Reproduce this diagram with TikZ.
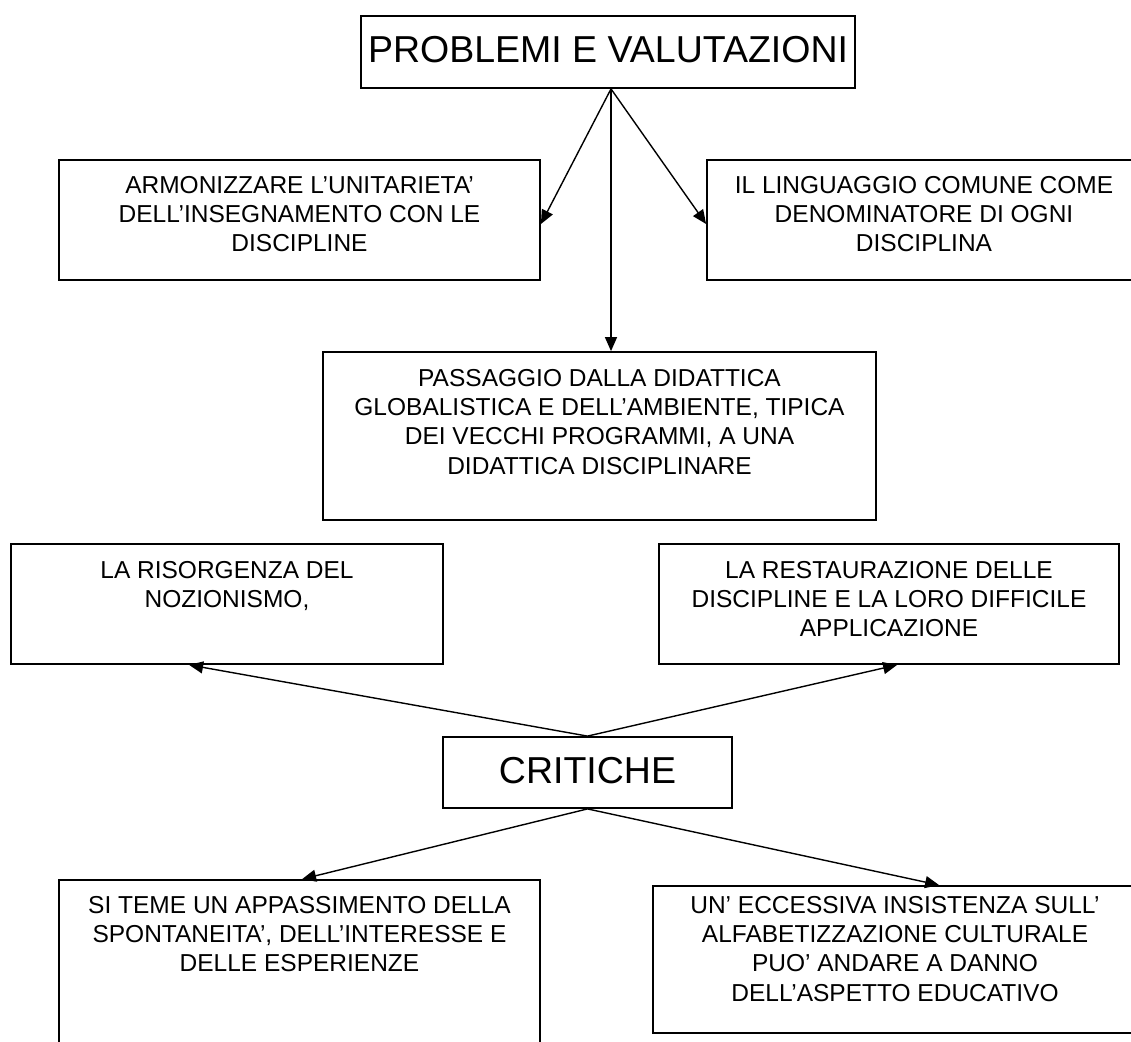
\documentclass[tikz,border=0pt]{standalone}
\usepackage{fontspec}
\setmainfont{Liberation Sans}
\usetikzlibrary{arrows.meta,calc}
\begin{document}
\begin{tikzpicture}[x=1pt,y=-1pt,
  box/.style={draw=black,line width=1.8pt,inner sep=0pt,rectangle},
  txt/.style={inner sep=0pt,anchor=north,align=center,font=\fontsize{24.5}{29.3}\selectfont},
  bigtxt/.style={inner sep=0pt,anchor=base,font=\fontsize{37.5}{44}\selectfont},
  arr/.style={line width=1.4pt,-{Triangle[length=14pt,width=12pt]}}]
\fill[white] (0,0) rectangle (1131,1041);
\useasboundingbox (0,0) rectangle (1131,1041);

% boxes
\node[box,minimum width=494pt,minimum height=72pt] (top) at (608,52) {};
\node[box,minimum width=481pt,minimum height=120pt] (arm) at (299.5,220) {};
\node[box,minimum width=434pt,minimum height=120pt] (lin) at (924,220) {};
\node[box,minimum width=553pt,minimum height=168pt] (pas) at (599.5,436) {};
\node[box,minimum width=432pt,minimum height=120pt] (ris) at (227,604) {};
\node[box,minimum width=460pt,minimum height=120pt] (res) at (889,604) {};
\node[box,minimum width=289pt,minimum height=71pt] (cri) at (587.5,772.5) {};
\node[box,minimum width=481pt,minimum height=200pt] (si) at (299.5,980) {};
\node[box,minimum width=484pt,minimum height=147pt] (un) at (895,959.5) {};

% texts
\node[bigtxt] (ttop) at (608,63) {PROBLEMI E VALUTAZIONI};
\node[txt] (tarm) at (299.5,176) {ARMONIZZARE L’UNITARIETA’\\DELL’INSEGNAMENTO CON LE\\DISCIPLINE};
\node[txt] (tlin) at (924,176) {IL LINGUAGGIO COMUNE COME\\DENOMINATORE DI OGNI\\DISCIPLINA};
\node[txt] (tpas) at (599.5,369) {PASSAGGIO DALLA DIDATTICA\\GLOBALISTICA E DELL’AMBIENTE, TIPICA\\DEI VECCHI PROGRAMMI, A UNA\\DIDATTICA DISCIPLINARE};
\node[txt] (tris) at (227,561) {LA RISORGENZA DEL\\NOZIONISMO,};
\node[txt] (tres) at (889,561) {LA RESTAURAZIONE DELLE\\DISCIPLINE E LA LORO DIFFICILE\\APPLICAZIONE};
\node[bigtxt] (tcri) at (587.5,783) {CRITICHE};
\node[txt] (tsi) at (299.5,896) {SI TEME UN APPASSIMENTO DELLA\\SPONTANEITA’, DELL’INTERESSE E\\DELLE ESPERIENZE};
\node[txt] (tun) at (895,896) {UN’ ECCESSIVA INSISTENZA SULL’\\ALFABETIZZAZIONE CULTURALE\\PUO’ ANDARE A DANNO\\DELL’ASPETTO EDUCATIVO};

% connectors
\coordinate (apex) at ($(top.south)+(3,0)$);
\draw[arr] (apex) -- ($(arm.east)+(0,4)$);
\draw[arr] (apex) -- ($(lin.west)+(0,4)$);
\draw[arr] (apex) -- (apex |- pas.north);
\draw[arr] (cri.north) -- ($(ris.south west)+(179,0)$);
\draw[arr] (cri.north) -- ($(res.south west)+(239,0)$);
\draw[arr] (cri.south) -- ($(si.north west)+(244,0)$);
\draw[arr] (cri.south) -- ($(un.north west)+(287,0)$);
\end{tikzpicture}
\end{document}
